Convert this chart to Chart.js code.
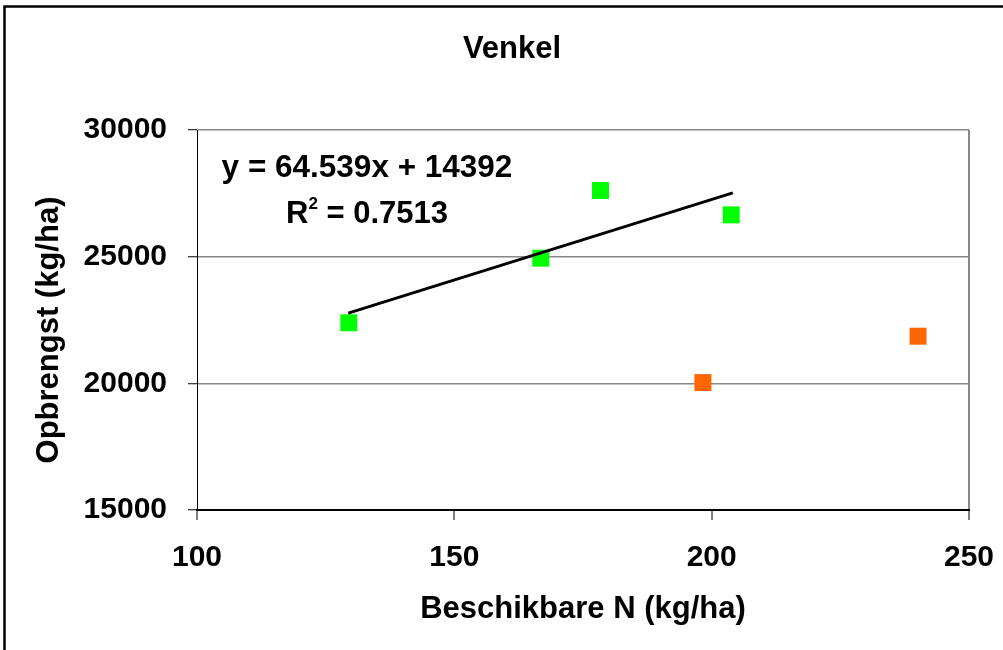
<!DOCTYPE html>
<html>
<head>
<meta charset="utf-8">
<script src="https://cdn.jsdelivr.net/npm/chart.js@4/dist/chart.umd.min.js"></script>
<style>
  body { margin: 0; background: #fff; }
  #wrap { width: 1003px; height: 650px; }
</style>
</head>
<body>
<div id="wrap"><canvas id="myChart" width="1003" height="650"></canvas></div>
<script>
// data
const greenX = [129.5, 166.8, 178.4, 203.8];
const greenY = [22390, 24940, 27610, 26650];
const orangeX = [198.3, 240.1];
const orangeY = [20030, 21860];
// trendline end points (as drawn)
const trendX = [129.4, 204.1];
const trendY = [22770, 27520];
const xTicks = [100, 150, 200, 250];
const yTicks = [15000, 20000, 25000, 30000];
const equation = "y = 64.539x + 14392";
const rSquared = "0.7513";

const FONT = "'Liberation Sans', Arial, sans-serif";
const toPoints = (xs, ys) => xs.map((x, i) => ({ x: x, y: ys[i] }));

// title, y-axis title, trendline label and the outer frame
const extras = {
  id: "extras",
  afterDraw(chart) {
    const c = chart.ctx;
    c.save();
    c.fillStyle = "#000";
    c.textBaseline = "alphabetic";

    c.font = "bold 31px " + FONT;
    c.textAlign = "center";
    c.fillText("Venkel", 512, 58);

    c.save();
    c.translate(58, 330);
    c.rotate(-Math.PI / 2);
    c.fillText("Opbrengst (kg/ha)", 0, 0);
    c.restore();

    c.font = "bold 31.5px " + FONT;
    c.fillText(equation, 367, 177);

    // R² line with a real superscript
    c.textAlign = "left";
    const big = "bold 31px " + FONT, small = "bold 17px " + FONT;
    c.font = big;
    const wR = c.measureText("R").width;
    const rest = " = " + rSquared;
    const wRest = c.measureText(rest).width;
    c.font = small;
    const w2 = c.measureText("2").width;
    let x = 367 - (wR + w2 + wRest) / 2;
    c.font = big;
    c.fillText("R", x, 223);
    x += wR;
    c.font = small;
    c.fillText("2", x, 209);
    x += w2;
    c.font = big;
    c.fillText(rest, x, 223);

    // outer frame
    c.strokeStyle = "#000";
    c.lineWidth = 2.5;
    c.beginPath();
    c.moveTo(4.5, 660);
    c.lineTo(4.5, 6.5);
    c.lineTo(1010, 6.5);
    c.stroke();
    c.restore();
  }
};

const ctx = document.getElementById("myChart").getContext("2d");
const myChart = new Chart(ctx, {
  type: "scatter",
  data: {
    datasets: [
      {
        label: "Trend",
        data: toPoints(trendX, trendY),
        showLine: true,
        borderColor: "#000",
        borderWidth: 3,
        pointRadius: 0,
        pointHoverRadius: 0,
        fill: false,
      },
      {
        label: "Groen",
        data: toPoints(greenX, greenY),
        pointStyle: "rect",
        pointRadius: 12,
        pointHoverRadius: 12,
        backgroundColor: "#00ff00",
        borderWidth: 0,
      },
      {
        label: "Oranje",
        data: toPoints(orangeX, orangeY),
        pointStyle: "rect",
        pointRadius: 12,
        pointHoverRadius: 12,
        backgroundColor: "#ff6600",
        borderWidth: 0,
      },
    ],
  },
  options: {
    responsive: false,
    animation: false,
    layout: { padding: { top: 130, right: 34, left: 0, bottom: 0 } },
    plugins: {
      legend: { display: false },
      title: { display: false },
    },
    scales: {
      x: {
        type: "linear",
        min: 100,
        max: 250,
        afterBuildTicks: (s) => { s.ticks = xTicks.map(v => ({ value: v })); },
        afterFit: (s) => { s.height = 140; s.paddingLeft = 0; s.paddingRight = 0; },
        ticks: {
          color: "#000",
          font: { family: FONT, size: 30, weight: "bold" },
          padding: 20,
          maxRotation: 0,
          callback: (v) => String(v),
        },
        grid: {
          color: (c) => (c.tick && c.tick.value === 250 ? "#888" : "rgba(0,0,0,0)"),
          lineWidth: 2,
          tickLength: 10,
          tickColor: "#000",
          tickWidth: 1,
        },
        border: { color: "#000", width: 2 },
        title: {
          display: true,
          text: "Beschikbare N (kg/ha)",
          color: "#000",
          font: { family: FONT, size: 31, weight: "bold" },
          padding: { top: 0, bottom: 22 },
        },
      },
      y: {
        min: 15000,
        max: 30000,
        afterBuildTicks: (s) => { s.ticks = yTicks.map(v => ({ value: v })); },
        afterFit: (s) => { s.width = 197; s.paddingTop = 0; s.paddingBottom = 0; },
        ticks: {
          color: "#000",
          font: { family: FONT, size: 30, weight: "bold" },
          padding: 21,
          callback: (v) => String(v),
        },
        grid: {
          color: "#888",
          lineWidth: 1.5,
          tickLength: 9,
          tickColor: "#000",
          tickWidth: 1,
        },
        border: { color: "#000", width: 1 },
      },
    },
  },
  plugins: [extras],
});
</script>
</body>
</html>
